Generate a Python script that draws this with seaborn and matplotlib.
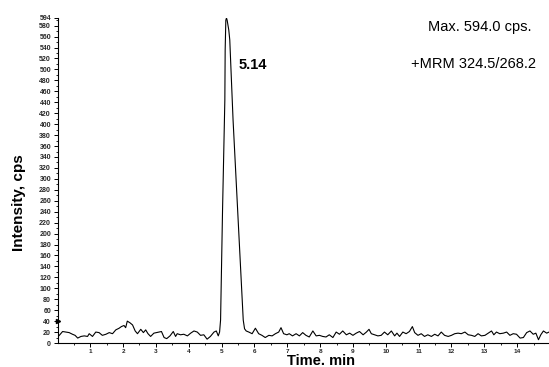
import matplotlib
matplotlib.use("Agg")
import matplotlib.pyplot as plt
import seaborn as sns
import pandas as pd
import numpy as np
from matplotlib.ticker import MultipleLocator, FixedLocator

# ---- data ----
time_min = [0.02, 0.06, 0.16, 0.26, 0.36, 0.46, 0.54, 0.62, 0.72, 0.82, 0.92, 0.97,
            1.07, 1.17, 1.27, 1.37, 1.48, 1.58, 1.68, 1.78, 1.88, 1.95, 2.03, 2.08,
            2.13, 2.21, 2.29, 2.37, 2.44, 2.54, 2.62, 2.69, 2.76, 2.84, 2.94, 3.02,
            3.10, 3.17, 3.25, 3.33, 3.43, 3.53, 3.60, 3.65, 3.75, 3.85, 3.96, 4.06,
            4.16, 4.26, 4.36, 4.46, 4.56, 4.66, 4.77, 4.84, 4.90, 4.94, 4.97, 5.03,
            5.10, 5.11, 5.13, 5.15, 5.17, 5.22, 5.25, 5.35, 5.49, 5.66, 5.70, 5.75,
            5.83, 5.93, 6.03, 6.13, 6.23, 6.33, 6.44, 6.54, 6.64, 6.74, 6.81, 6.89,
            6.99, 7.06, 7.16, 7.27, 7.37, 7.47, 7.57, 7.67, 7.78, 7.88, 7.98, 8.08,
            8.18, 8.28, 8.39, 8.49, 8.59, 8.69, 8.80, 8.90, 9.00, 9.10, 9.20, 9.31,
            9.41, 9.49, 9.56, 9.66, 9.76, 9.86, 9.96, 10.06, 10.17, 10.27, 10.34, 10.42,
            10.52, 10.62, 10.72, 10.81, 10.88, 10.98, 11.08, 11.18, 11.28, 11.39, 11.49, 11.59,
            11.69, 11.79, 11.90, 12.00, 12.10, 12.20, 12.30, 12.41, 12.51, 12.61, 12.71, 12.81,
            12.91, 13.02, 13.12, 13.22, 13.29, 13.37, 13.47, 13.58, 13.68, 13.78, 13.88, 13.98,
            14.09, 14.19, 14.29, 14.39, 14.49, 14.57, 14.65, 14.72, 14.80, 14.90, 14.97]

intensity_cps = [12, 14, 21, 20, 19, 16, 14, 9, 12, 13, 12, 17,
                 12, 20, 19, 14, 16, 19, 17, 24, 27, 30, 32, 28,
                 40, 37, 33, 22, 17, 25, 19, 24, 17, 12, 18, 19,
                 20, 21, 10, 8, 13, 21, 12, 17, 15, 16, 13, 18,
                 22, 20, 14, 15, 7, 12, 20, 22, 13, 20, 42, 243,
                 444, 536, 590, 594, 590, 572, 554, 408, 243, 42, 26, 22,
                 20, 17, 27, 17, 14, 10, 14, 13, 17, 20, 28, 17,
                 15, 17, 13, 17, 13, 19, 14, 11, 22, 13, 14, 12,
                 11, 15, 10, 20, 16, 22, 15, 18, 14, 18, 21, 15,
                 20, 25, 17, 15, 13, 14, 20, 15, 22, 13, 18, 12,
                 20, 17, 21, 30, 19, 14, 17, 12, 15, 12, 16, 13,
                 20, 14, 12, 14, 17, 18, 17, 20, 15, 14, 12, 17,
                 13, 14, 18, 22, 15, 20, 17, 18, 20, 14, 17, 16,
                 9, 10, 19, 22, 16, 18, 6, 15, 22, 18, 20]

y_ticks = list(range(0, 581, 20)) + [594]
x_ticks = list(range(1, 15))
peak_label = "5.14"
max_text = "Max. 594.0 cps."
mrm_text = "+MRM 324.5/268.2"

df = pd.DataFrame({"Time": time_min, "Intensity": intensity_cps})

sns.set_theme(style="white")
plt.rcParams["font.family"] = ["Liberation Sans", "DejaVu Sans"]

W, H = 549, 367
fig = plt.figure(figsize=(W / 100, H / 100), dpi=100)
ax = fig.add_axes([58 / W, 1 - 343 / H, 1 - 58 / W, (343 - 18) / H])

sns.lineplot(data=df, x="Time", y="Intensity", ax=ax, color="black",
             linewidth=0.8, estimator=None, sort=False)

ax.set_xlim(0.02, 14.97)
ax.set_ylim(0, 594)
ax.set_xlabel("")
ax.set_ylabel("")

for s in ["top", "right"]:
    ax.spines[s].set_visible(False)
for s in ["left", "bottom"]:
    ax.spines[s].set_color("black")
    ax.spines[s].set_linewidth(0.8)

ax.yaxis.set_major_locator(FixedLocator(y_ticks))
ax.set_yticklabels([str(v) for v in y_ticks])
ax.yaxis.set_minor_locator(MultipleLocator(10))
ax.xaxis.set_major_locator(FixedLocator(x_ticks))
ax.set_xticklabels([str(v) for v in x_ticks])
ax.xaxis.set_minor_locator(MultipleLocator(0.5))

ax.tick_params(axis="y", which="major", direction="out", length=3, width=0.7,
               color="black", labelsize=5, pad=2, left=True)
ax.tick_params(axis="x", which="major", direction="out", length=3, width=0.7,
               color="black", labelsize=4.6, pad=1, bottom=True)
ax.tick_params(axis="both", which="minor", direction="out", length=1.5, width=0.6,
               color="black", left=True, bottom=True)
for lab in ax.get_xticklabels() + ax.get_yticklabels():
    lab.set_fontweight("bold")

# peak annotation
ax.text(5.53, 508, peak_label, fontsize=10.5, fontweight="bold",
        ha="left", va="center", color="black")

# header texts
fig.text(532 / W, 1 - 27 / H, max_text, fontsize=10.5, ha="right", va="center",
         color="black")
fig.text(536 / W, 1 - 64 / H, mrm_text, fontsize=10.5, ha="right", va="center",
         color="black")

# axis titles
fig.text(321 / W, 1 - 361 / H, "Time. min", fontsize=10.5, fontweight="bold",
         ha="center", va="center", color="black")
fig.text(19 / W, 1 - 203 / H, "Intensity, cps", fontsize=11, fontweight="bold",
         ha="center", va="center", rotation=90, color="black")

# small threshold marker at left edge
ax.plot([0.02], [40], marker=">", markersize=3, color="black", clip_on=False)

fig.savefig("out.png", dpi=100)
